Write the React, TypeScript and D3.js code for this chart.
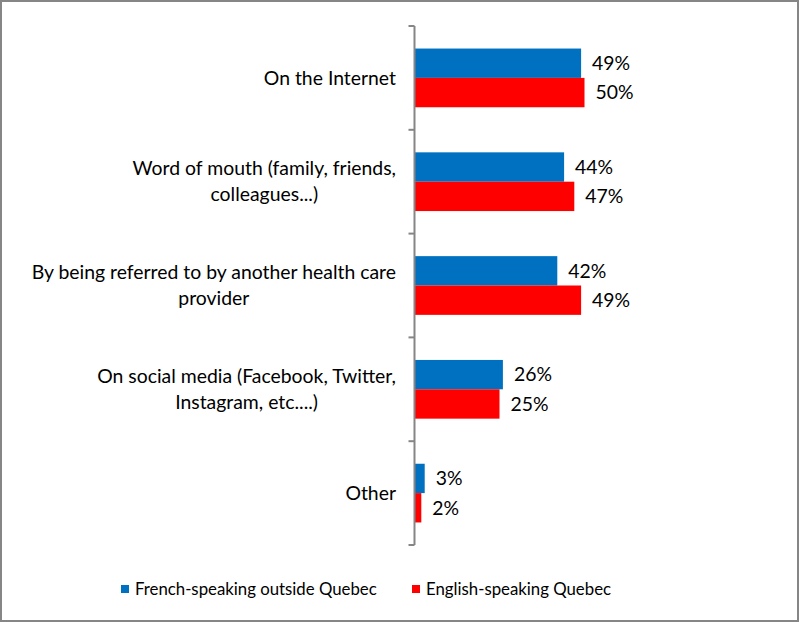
import React from 'react';
import * as d3 from 'd3';

const categories = [
  'On the Internet',
  'Word of mouth (family, friends,\ncolleagues...)',
  'By being referred to by another health care\nprovider',
  'On social media (Facebook, Twitter,\nInstagram, etc....)',
  'Other',
];
const seriesNames = ['French-speaking outside Quebec', 'English-speaking Quebec'];
const frenchValues = [0.49, 0.44, 0.42, 0.26, 0.03];
const englishValues = [0.5, 0.47, 0.49, 0.25, 0.02];
const colors = ['#0070C0', '#FF0000'];

const W = 799;
const H = 622;
const FONT = 'Lato, "Noto Sans", sans-serif';
const LABEL_SIZE = 19.4;

const App = () => {
  const axisX = 414.5;
  const y = d3.scaleBand<string>().domain(categories).range([26, 545]);
  const sub = d3
    .scaleBand<string>()
    .domain(seriesNames)
    .range([0, y.bandwidth()])
    .paddingOuter(0.768);
  const x = d3.scaleLinear().domain([0, 0.6]).range([axisX, axisX + 204]);
  const values = [frenchValues, englishValues];
  const fmt = d3.format('.0%');
  const lineH = 26;

  return (
    <svg
      width={W}
      height={H}
      style={{ position: 'absolute', left: 0, top: 0, display: 'block' }}
      fontFamily={FONT}
    >
      <rect x={1} y={1} width={W - 2} height={H - 2} fill="#fff" stroke="#868686" strokeWidth={2} />

      {/* bars */}
      {seriesNames.map((s, si) =>
        categories.map((c, ci) => {
          const v = values[si][ci];
          const by = y(c)! + sub(s)!;
          return (
            <g key={s + c}>
              <rect x={x(0)} y={by} width={x(v) - x(0)} height={sub.bandwidth()} fill={colors[si]} />
              <text
                x={x(v) + 11}
                y={by + sub.bandwidth() / 2}
                dy="0.35em"
                fontSize={LABEL_SIZE}
                fill="#000"
              >
                {fmt(v)}
              </text>
            </g>
          );
        })
      )}

      {/* axis */}
      <line x1={axisX} x2={axisX} y1={y.range()[0]} y2={y.range()[1]} stroke="#868686" strokeWidth={2} />
      {[...categories.map((c) => y(c)!), y.range()[1]].map((t, i) => (
        <line key={i} x1={axisX - 6} x2={axisX} y1={t} y2={t} stroke="#868686" strokeWidth={2} />
      ))}

      {/* category labels */}
      {categories.map((c) => {
        const lines = c.split('\n');
        const cy = y(c)! + y.bandwidth() / 2;
        const lens = lines.map((l) => l.length);
        const widest = lines[lens.indexOf(Math.max(...lens))];
        return (
          <g key={c}>
            {lines.length === 1 ? (
              <text x={396} y={cy} dy="0.35em" textAnchor="end" fontSize={LABEL_SIZE} fill="#000">
                {c}
              </text>
            ) : (
              <CenteredLines lines={lines} right={396} cy={cy} lineH={lineH} widest={widest} />
            )}
          </g>
        );
      })}

      {/* legend */}
      {seriesNames.map((s, i) => {
        const lx = [121, 412][i];
        return (
          <g key={s}>
            <rect x={lx} y={585} width={8} height={8} fill={colors[i]} />
            <text x={lx + 14} y={589.5} dy="0.35em" fontSize={16.8} fill="#000">
              {s}
            </text>
          </g>
        );
      })}
    </svg>
  );
};

// wrapped labels: block right-aligned, lines centred within the block
const CenteredLines = ({ lines, right, cy, lineH, widest }) => {
  const ref = React.useRef<SVGGElement>(null);
  React.useEffect(() => {
    const g = d3.select(ref.current);
    g.selectAll('*').remove();
    const probe = g.append('text').attr('font-size', LABEL_SIZE).text(widest);
    const w = (probe.node() as SVGTextElement).getComputedTextLength();
    probe.remove();
    const cx = right - w / 2;
    lines.forEach((l, i) => {
      g.append('text')
        .attr('x', cx)
        .attr('y', cy + (i - (lines.length - 1) / 2) * lineH)
        .attr('dy', '0.35em')
        .attr('text-anchor', 'middle')
        .attr('font-size', LABEL_SIZE)
        .attr('fill', '#000')
        .text(l);
    });
  }, [lines, right, cy, lineH, widest]);
  return <g ref={ref} />;
};

export default App;
